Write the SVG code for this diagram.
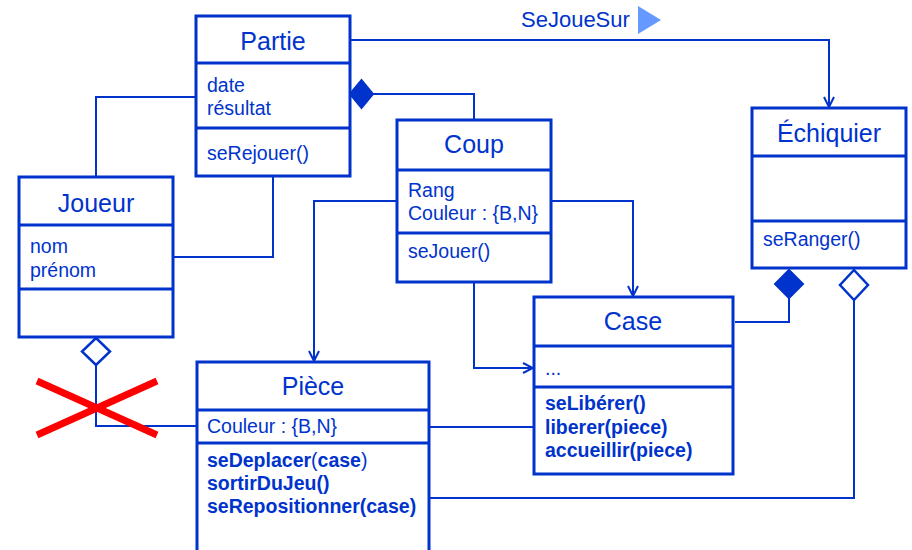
<svg xmlns="http://www.w3.org/2000/svg" width="912" height="550" viewBox="0 0 912 550">
<defs>
<style>
.box{fill:#fff;stroke:#0033cc;stroke-width:3}
.sep{stroke:#0033cc;stroke-width:3}
.con{fill:none;stroke:#0033cc;stroke-width:2}
.title{font-family:"Liberation Sans",Arial,sans-serif;font-size:25px;fill:#0033cc;text-anchor:middle}
.attr{font-family:"Liberation Sans",Arial,sans-serif;font-size:19.5px;fill:#0033cc}
.b{font-weight:bold}
.n{font-weight:normal}
</style>
<marker id="arr" viewBox="0 0 12 12" refX="11" refY="6" markerWidth="12" markerHeight="12" markerUnits="userSpaceOnUse" orient="auto">
<path d="M1,1 L11,6 L1,11" fill="none" stroke="#0033cc" stroke-width="2"/>
</marker>
</defs>
<rect width="912" height="550" fill="#fff"/>
<g id="connectors">
<polyline class="con" points="350,40 829,40 829,107" marker-end="url(#arr)"/>
<polyline class="con" points="373,94 474,94 474,120"/>
<polyline class="con" points="96,177 96,97 196,97"/>
<polyline class="con" points="273,176 273,257 173,257"/>
<polyline class="con" points="397,201 314,201 314,361" marker-end="url(#arr)"/>
<polyline class="con" points="551,201 633,201 633,296" marker-end="url(#arr)"/>
<polyline class="con" points="474,282 474,368 533,368" marker-end="url(#arr)"/>
<polyline class="con" points="789,298 789,322 735,322"/>
<polyline class="con" points="854,300 854,498 430,498"/>
<polyline class="con" points="430,427 534,427"/>
<polyline class="con" points="96,365 96,426 197,426"/>
<polygon points="350,94 361.5,80 373,94 361.5,108" fill="#0033cc" stroke="#0033cc" stroke-width="2"/>
<polygon points="96,338 110,351.5 96,365 82,351.5" fill="#fff" stroke="#0033cc" stroke-width="2.5"/>
<polygon points="789,270 803,284 789,298 775,284" fill="#0033cc" stroke="#0033cc" stroke-width="2"/>
<polygon points="854,270 868,285 854,300 840,285" fill="#fff" stroke="#0033cc" stroke-width="2.5"/>
</g>
<g id="label-sejouesur">
<text x="521" y="27" style="font-family:'Liberation Sans',Arial,sans-serif;font-size:22px;fill:#0033cc">SeJoueSur</text>
<polygon points="638,6 661,20 638,34" fill="#6699ff"/>
</g>
<g id="partie">
<rect class="box" x="196" y="16" width="154" height="160"/>
<line class="sep" x1="196" y1="63" x2="350" y2="63"/>
<line class="sep" x1="196" y1="128" x2="350" y2="128"/>
<text class="title" x="273" y="50">Partie</text>
<text class="attr" x="207" y="92">date</text>
<text class="attr" x="207" y="115">résultat</text>
<text class="attr" x="207" y="160">seRejouer()</text>
</g>
<g id="joueur">
<rect class="box" x="19" y="177" width="154" height="160"/>
<line class="sep" x1="19" y1="225" x2="173" y2="225"/>
<line class="sep" x1="19" y1="289" x2="173" y2="289"/>
<text class="title" x="96" y="212">Joueur</text>
<text class="attr" x="30" y="253">nom</text>
<text class="attr" x="30" y="277">prénom</text>
</g>
<g id="coup">
<rect class="box" x="397" y="120" width="154" height="162"/>
<line class="sep" x1="397" y1="170" x2="551" y2="170"/>
<line class="sep" x1="397" y1="233" x2="551" y2="233"/>
<text class="title" x="474" y="153">Coup</text>
<text class="attr" x="408" y="197">Rang</text>
<text class="attr" x="408" y="220">Couleur : {B,N}</text>
<text class="attr" x="408" y="258">seJouer()</text>
</g>
<g id="echiquier">
<rect class="box" x="752" y="108" width="154" height="160"/>
<line class="sep" x1="752" y1="156" x2="906" y2="156"/>
<line class="sep" x1="752" y1="221" x2="906" y2="221"/>
<text class="title" x="829" y="142">Échiquier</text>
<text class="attr" x="763" y="246">seRanger()</text>
</g>
<g id="case">
<rect class="box" x="534" y="297" width="199" height="177"/>
<line class="sep" x1="534" y1="346" x2="733" y2="346"/>
<line class="sep" x1="534" y1="387" x2="733" y2="387"/>
<text class="title" x="633" y="330">Case</text>
<text class="attr" x="545" y="375">...</text>
<text class="attr b" x="545" y="410">seLibérer()</text>
<text class="attr b" x="545" y="434">liberer(piece)</text>
<text class="attr b" x="545" y="457">accueillir(piece)</text>
</g>
<g id="piece">
<rect class="box" x="197" y="362" width="232" height="200"/>
<line class="sep" x1="197" y1="410" x2="429" y2="410"/>
<line class="sep" x1="197" y1="443" x2="429" y2="443"/>
<text class="title" x="313" y="395">Pièce</text>
<text class="attr" x="207" y="433">Couleur : {B,N}</text>
<text class="attr" x="207" y="467"><tspan class="b">seDeplacer</tspan><tspan class="n">(</tspan><tspan class="b">case</tspan><tspan class="n">)</tspan></text>
<text class="attr b" x="207" y="490">sortirDuJeu()</text>
<text class="attr b" x="207" y="513">seRepositionner(case)</text>
</g>
<g id="cross">
<line x1="37" y1="381" x2="157" y2="435" stroke="#ff0000" stroke-width="7"/>
<line x1="37" y1="435" x2="157" y2="381" stroke="#ff0000" stroke-width="7"/>
</g>
</svg>
